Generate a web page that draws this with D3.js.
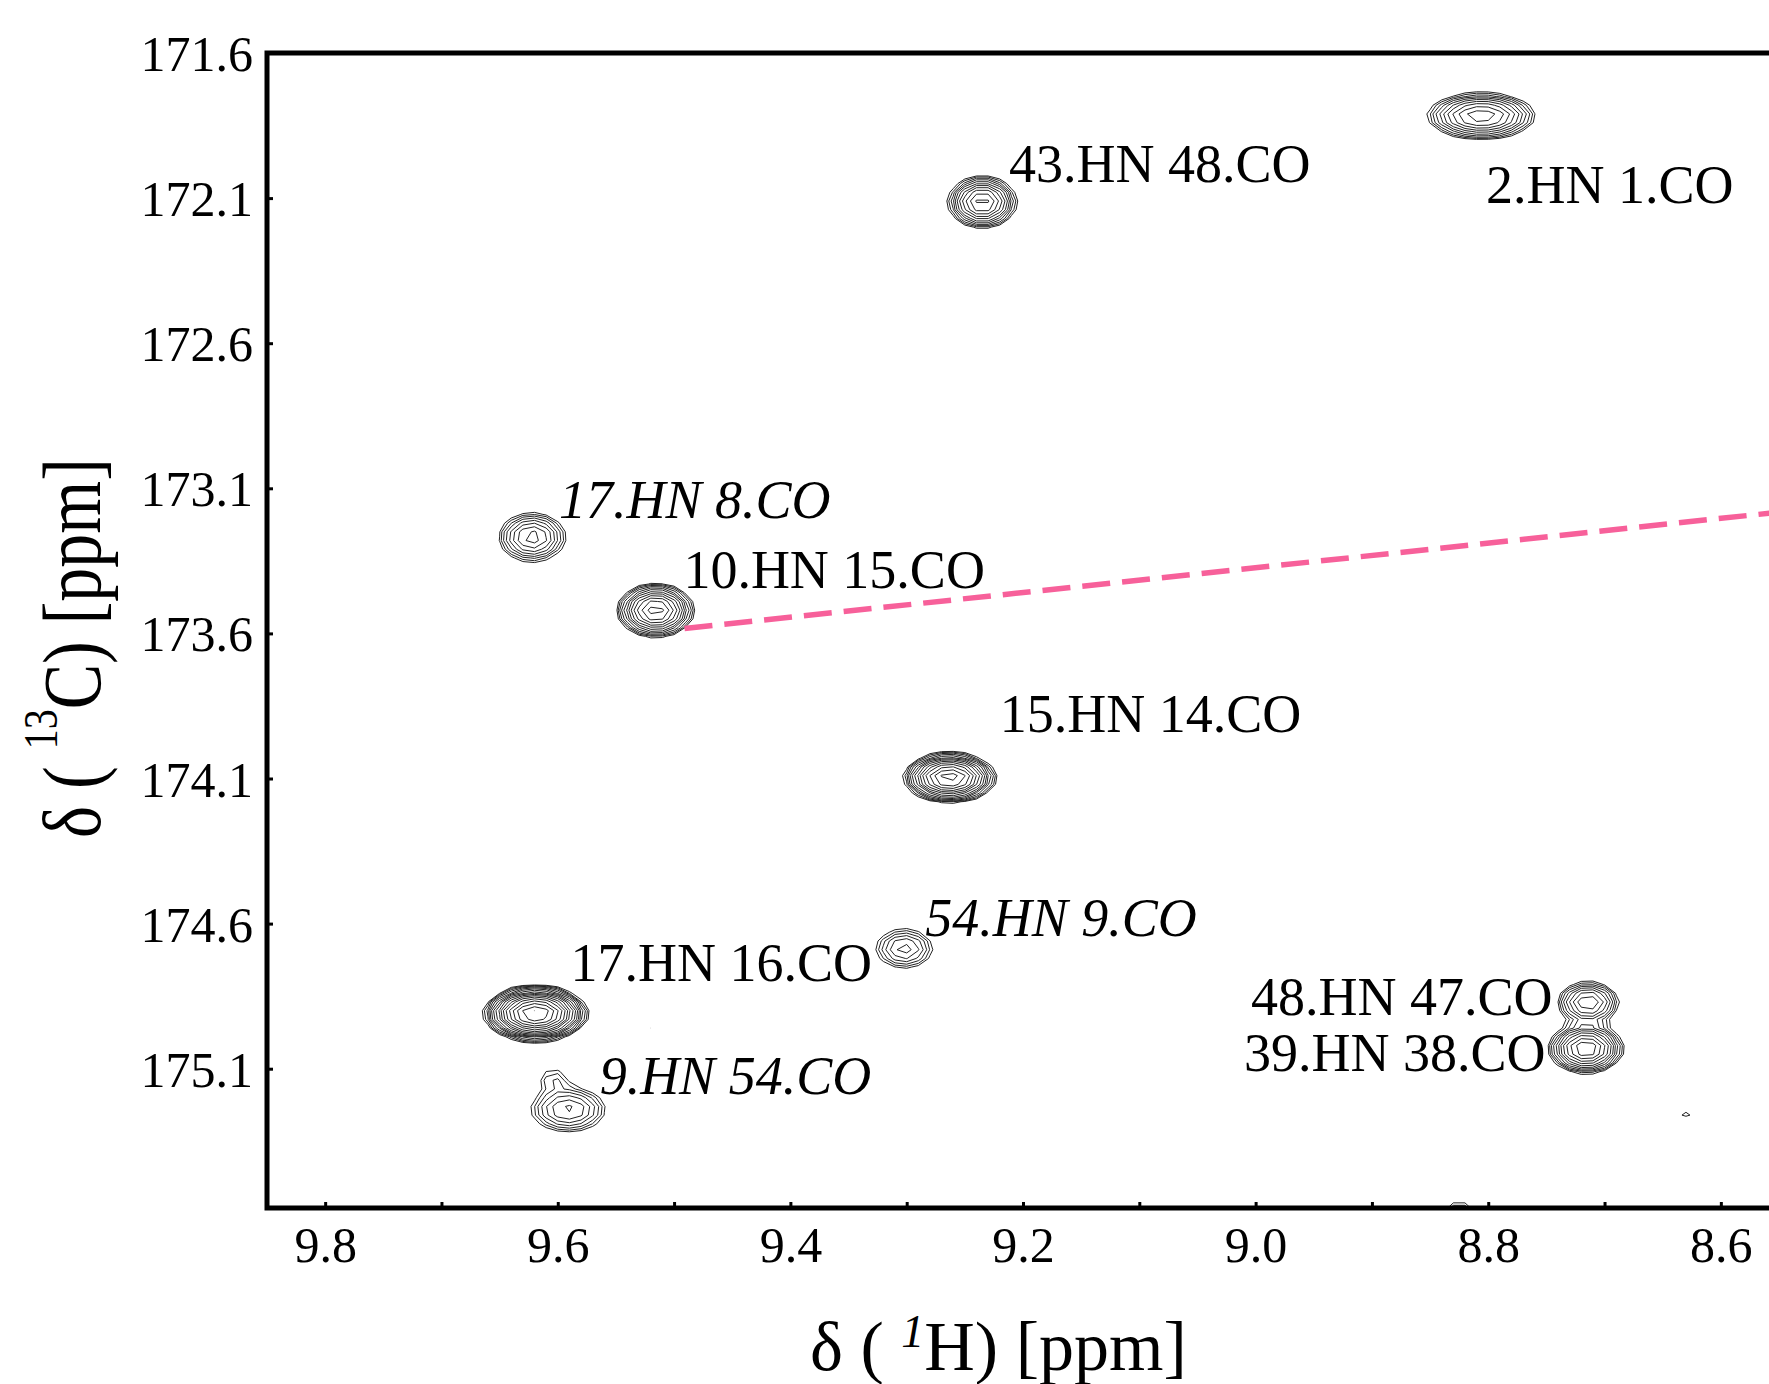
<!DOCTYPE html>
<html>
<head>
<meta charset="utf-8">
<script src="https://cdn.jsdelivr.net/npm/d3@7"></script>
<style>
  html, body { margin: 0; padding: 0; background: #fff; }
  svg { display: block; }
  text { font-family: "Liberation Serif", "Times New Roman", serif; fill: #000; }
</style>
</head>
<body>
<svg id="chart" width="1769" height="1384"></svg>
<script>
// ---------------- data ----------------
// x axis: 1H chemical shift (ppm), y axis: 13C chemical shift (ppm)
const xTickValues = [9.8, 9.7, 9.6, 9.5, 9.4, 9.3, 9.2, 9.1, 9.0, 8.9, 8.8, 8.7, 8.6];
const xTickLabels = ["9.8", "", "9.6", "", "9.4", "", "9.2", "", "9.0", "", "8.8", "", "8.6"];
const yTickValues = [171.6, 172.1, 172.6, 173.1, 173.6, 174.1, 174.6, 175.1];
const yTickLabels = ["171.6", "172.1", "172.6", "173.1", "173.6", "174.1", "174.6", "175.1"];

// cross peaks: position (ppm), intensity (in units of the lowest contour), widths (ppm)
const peakH   = [8.806, 9.235, 9.622, 9.516, 9.263, 9.302, 9.619, 9.591, 9.604, 8.714, 8.716, 8.630, 8.825, 9.518];
const peakC   = [171.817, 172.114, 173.269, 173.521, 174.097, 174.686, 174.910, 175.241, 175.130, 174.872, 175.031, 175.252, 175.60, 174.952];
const peakAmp = [7, 8, 4.5, 10, 15, 3, 25, 3.5, 1.4, 5, 9, 1.12, 2, 1.1];
const peakSH  = [0.0235, 0.0143, 0.0164, 0.0152, 0.0170, 0.0162, 0.0176, 0.0201, 0.0105, 0.0145, 0.0152, 0.0145, 0.011, 0.0118];
const peakSC  = [0.0403, 0.0440, 0.0487, 0.0434, 0.0370, 0.0454, 0.0381, 0.0479, 0.030, 0.040, 0.041, 0.029, 0.035, 0.020];

// assignment labels: text, anchor position (ppm), italic flag
const labelText   = ["2.HN 1.CO", "43.HN 48.CO", "17.HN 8.CO", "10.HN 15.CO", "15.HN 14.CO",
                     "54.HN 9.CO", "17.HN 16.CO", "9.HN 54.CO", "48.HN 47.CO", "39.HN 38.CO"];
const labelH      = [8.802, 9.212, 9.599, 9.492, 9.220, 9.284, 9.589, 9.564, 9.004, 9.010];
const labelC      = [172.117, 172.045, 173.203, 173.445, 173.941, 174.641, 174.797, 175.186, 174.914, 175.107];
const labelItalic = [false, false, true, false, false, true, false, true, false, false];

// dashed connecting line (ppm)
const lineH = [9.491, 8.50];
const lineC = [173.583, 173.161];

// contour levels (multiplicative spacing)
const contourLevels = [1, 1.22, 1.49, 1.82, 2.22, 2.7, 3.3, 4.02, 4.91, 5.99, 7.3, 8.91,
                       10.87, 13.26, 16.18, 19.74, 24.08];

// ---------------- layout ----------------
const plotLeft = 267, plotTop = 53, plotBottom = 1208, plotRight = 1779;

const svg = d3.select("#chart");

const x = d3.scaleLinear().domain([9.85, 8.55]).range([plotLeft, plotRight]);
const y = d3.scaleLinear().domain([171.6, 175.58]).range([plotTop, plotBottom]);

svg.append("defs").append("clipPath").attr("id", "plotClip")
  .append("rect")
  .attr("x", plotLeft).attr("y", plotTop)
  .attr("width", plotRight - plotLeft).attr("height", plotBottom - plotTop);

const plot = svg.append("g").attr("clip-path", "url(#plotClip)");

// ---------------- contours ----------------
const hStart = 9.87, dh = 0.01;
const cStart = 171.54, dc = 0.03;
const nx = Math.round((hStart - 8.53) / dh) + 1;
const ny = Math.round((175.68 - cStart) / dc) + 1;
const grid = new Float64Array(nx * ny);
for (let j = 0; j < ny; j++) {
  const c = cStart + j * dc;
  for (let i = 0; i < nx; i++) {
    const h = hStart - i * dh;
    let v = 0;
    for (let p = 0; p < peakH.length; p++) {
      const ddh = (h - peakH[p]) / peakSH[p];
      const ddc = (c - peakC[p]) / peakSC[p];
      v += peakAmp[p] * Math.exp(-0.5 * (ddh * ddh + ddc * ddc));
    }
    grid[j * nx + i] = v;
  }
}
const contours = d3.contours().size([nx, ny]).thresholds(contourLevels)(grid);
const gridProjection = d3.geoTransform({
  point: function(gx, gy) {
    this.stream.point(x(hStart - (gx - 0.5) * dh), y(cStart + (gy - 0.5) * dc));
  }
});
const contourPath = d3.geoPath(gridProjection);

plot.append("g").selectAll("path")
  .data(contours)
  .join("path")
  .attr("d", contourPath)
  .attr("fill", "none")
  .attr("stroke", "#222")
  .attr("stroke-width", 1)
  .attr("stroke-linejoin", "miter");

// ---------------- dashed line ----------------
plot.append("line")
  .attr("x1", x(lineH[0])).attr("y1", y(lineC[0]))
  .attr("x2", x(lineH[1])).attr("y2", y(lineC[1]))
  .attr("stroke", "#f7609a")
  .attr("stroke-width", 5.5)
  .attr("stroke-dasharray", "28,12");

// ---------------- labels ----------------
svg.append("g").selectAll("text")
  .data(labelText)
  .join("text")
  .attr("x", (d, i) => x(labelH[i]))
  .attr("y", (d, i) => y(labelC[i]))
  .attr("font-size", 54)
  .attr("font-style", (d, i) => labelItalic[i] ? "italic" : "normal")
  .text(d => d);

// ---------------- axes ----------------
const yAxis = d3.axisLeft(y)
  .tickValues(yTickValues)
  .tickFormat((d, i) => yTickLabels[i])
  .tickSizeInner(-6).tickSizeOuter(0).tickPadding(14);
const gy = svg.append("g").attr("transform", `translate(${plotLeft},0)`).call(yAxis);
gy.select(".domain").remove();
gy.selectAll(".tick line").attr("stroke", "#000").attr("stroke-width", 3);
gy.selectAll(".tick text").attr("font-size", 50).attr("font-family", "Liberation Serif").attr("dy", "0.35em");

const xAxis = d3.axisBottom(x)
  .tickValues(xTickValues)
  .tickFormat((d, i) => xTickLabels[i])
  .tickSizeInner(-6).tickSizeOuter(0).tickPadding(18);
const gx = svg.append("g").attr("transform", `translate(0,${plotBottom})`).call(xAxis);
gx.select(".domain").remove();
gx.selectAll(".tick line").attr("stroke", "#000").attr("stroke-width", 3);
gx.selectAll(".tick text").attr("font-size", 50).attr("font-family", "Liberation Serif");

// frame (left, top, bottom)
svg.append("path")
  .attr("d", `M${plotRight},${plotTop}H${plotLeft}V${plotBottom}H${plotRight}`)
  .attr("fill", "none")
  .attr("stroke", "#000")
  .attr("stroke-width", 5)
  .attr("stroke-linejoin", "miter");

// ---------------- axis titles ----------------
const xTitle = svg.append("text")
  .attr("x", 810).attr("y", 1370)
  .attr("font-size", 70);
xTitle.append("tspan").text("δ ( ");
xTitle.append("tspan").attr("font-size", 46).attr("font-style", "italic").attr("dy", -23).text("1");
xTitle.append("tspan").attr("dy", 23).text("H) [ppm]");

const yTitle = svg.append("text")
  .attr("transform", "translate(100,838) rotate(-90) scale(1,1.22)")
  .attr("x", 0).attr("y", 0)
  .attr("font-size", 68);
yTitle.append("tspan").text("δ ( ");
yTitle.append("tspan").attr("font-size", 40).attr("dy", -35).text("13");
yTitle.append("tspan").attr("dy", 35).text("C) [ppm]");
</script>
</body>
</html>
